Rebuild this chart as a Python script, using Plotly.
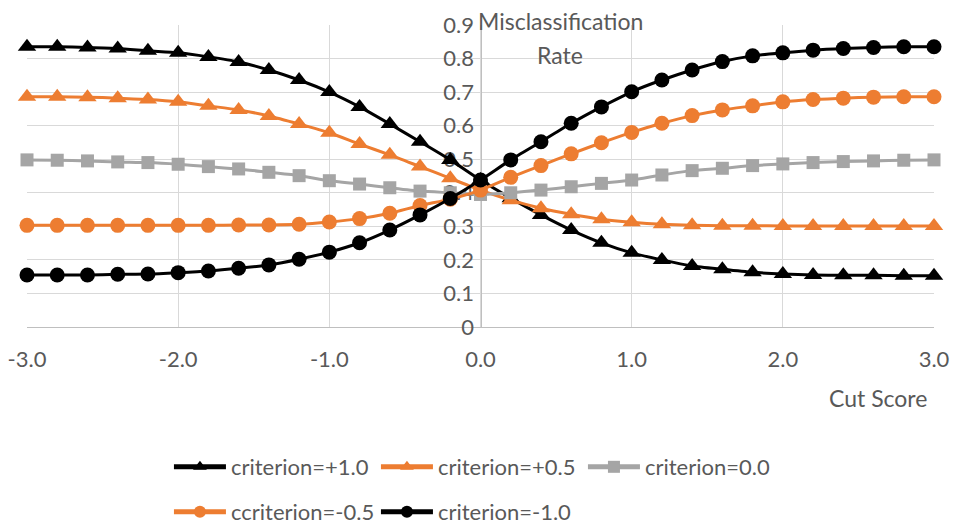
import plotly.graph_objects as go

# Cut scores (x) shared by every series
cut_score = [-3.0, -2.8, -2.6, -2.4, -2.2, -2.0, -1.8, -1.6, -1.4, -1.2, -1.0,
             -0.8, -0.6, -0.4, -0.2, 0.0, 0.2, 0.4, 0.6, 0.8, 1.0,
             1.2, 1.4, 1.6, 1.8, 2.0, 2.2, 2.4, 2.6, 2.8, 3.0]

# Misclassification rate per criterion value
crit_p10 = [0.835, 0.835, 0.833, 0.830, 0.823, 0.817, 0.805, 0.790, 0.766, 0.736,
            0.700, 0.656, 0.605, 0.552, 0.498, 0.438, 0.384, 0.334, 0.289, 0.251,
            0.221, 0.200, 0.182, 0.172, 0.163, 0.158, 0.155, 0.154, 0.154, 0.153, 0.153]
crit_p05 = [0.686, 0.686, 0.685, 0.682, 0.678, 0.671, 0.659, 0.647, 0.629, 0.605,
            0.579, 0.545, 0.513, 0.478, 0.443, 0.408, 0.378, 0.354, 0.336, 0.321,
            0.312, 0.306, 0.303, 0.302, 0.302, 0.301, 0.301, 0.301, 0.301, 0.301, 0.301]
crit_00 = [0.498, 0.497, 0.495, 0.492, 0.490, 0.485, 0.478, 0.471, 0.461, 0.451,
           0.436, 0.426, 0.415, 0.405, 0.400, 0.395, 0.400, 0.408, 0.418, 0.428,
           0.438, 0.453, 0.466, 0.473, 0.481, 0.486, 0.490, 0.493, 0.495, 0.497, 0.498]
crit_m05 = [0.303, 0.303, 0.303, 0.303, 0.303, 0.303, 0.303, 0.304, 0.304, 0.306,
            0.313, 0.323, 0.339, 0.362, 0.381, 0.408, 0.446, 0.481, 0.516, 0.549,
            0.580, 0.607, 0.630, 0.647, 0.659, 0.671, 0.678, 0.682, 0.685, 0.686, 0.686]
crit_m10 = [0.155, 0.155, 0.155, 0.157, 0.158, 0.162, 0.167, 0.175, 0.185, 0.202,
            0.223, 0.251, 0.289, 0.334, 0.383, 0.438, 0.498, 0.552, 0.607, 0.656,
            0.701, 0.736, 0.766, 0.791, 0.808, 0.817, 0.825, 0.830, 0.833, 0.835, 0.835]

series_names = ["criterion=+1.0", "criterion=+0.5", "criterion=0.0",
                "ccriterion=-0.5", "criterion=-1.0"]

x_tick_vals = [-3, -2, -1, 0, 1, 2, 3]
x_tick_labels = ["-3.0", "-2.0", "-1.0", "0.0", "1.0", "2.0", "3.0"]
y_tick_vals = [0, 0.1, 0.2, 0.3, 0.4, 0.5, 0.6, 0.7, 0.8, 0.9]
y_tick_labels = ["0", "0.1", "0.2", "0.3", "0.4", "0.5", "0.6", "0.7", "0.8", "0.9"]

BLACK = "#000000"
ORANGE = "#ED7D31"
GREY = "#A5A5A5"
TEXT = "#595959"
FONT = "Lato"

styles = [
    (crit_p10, BLACK, "triangle-up", 16, "legend"),
    (crit_p05, ORANGE, "triangle-up", 16, "legend"),
    (crit_00, GREY, "square", 13, "legend"),
    (crit_m05, ORANGE, "circle", 15, "legend2"),
    (crit_m10, BLACK, "circle", 15, "legend2"),
]

fig = go.Figure()
for name, (vals, color, symbol, size, leg) in zip(series_names, styles):
    fig.add_trace(go.Scatter(
        x=cut_score, y=vals, name=name, mode="lines+markers",
        line=dict(color=color, width=3, shape="spline", smoothing=0.6),
        marker=dict(symbol=symbol, size=size, color=color, line=dict(width=0)),
        cliponaxis=False, legend=leg,
    ))

legend_common = dict(
    orientation="h", xanchor="left", yanchor="middle",
    font=dict(family=FONT, size=22, color=TEXT),
    itemwidth=52, entrywidth=140, entrywidthmode="pixels",
    bgcolor="rgba(0,0,0,0)", itemsizing="constant",
)

fig.update_layout(
    width=954, height=525,
    margin=dict(l=27, r=20, t=25, b=198, autoexpand=False),
    paper_bgcolor="white", plot_bgcolor="white",
    font=dict(family=FONT, size=22, color=TEXT),
    xaxis=dict(
        range=[-3, 3], tickvals=x_tick_vals, ticktext=x_tick_labels,
        showgrid=True, gridcolor="#D9D9D9", gridwidth=1.3,
        zeroline=False, showline=True, linecolor="#BFBFBF", linewidth=1.3,
        ticks="", ticklabelstandoff=12, mirror=False,
        tickfont=dict(family=FONT, size=22, color=TEXT),
        layer="below traces",
    ),
    yaxis=dict(
        range=[0, 0.9], tickvals=y_tick_vals, ticktext=y_tick_labels,
        showgrid=True, gridcolor="#D9D9D9", gridwidth=1.3,
        zeroline=False, showline=True, linecolor="#BFBFBF", linewidth=1.3,
        anchor="free", position=0.5, side="left", ticks="",
        ticklabelstandoff=2,
        tickfont=dict(family=FONT, size=22, color=TEXT),
        layer="below traces",
    ),
    legend=dict(x=0.1565, y=-0.4636, **legend_common),
    legend2=dict(x=0.1565, y=-0.6126, **legend_common),
    annotations=[
        dict(text="Misclassification", xref="paper", yref="paper",
             x=0.5877, y=1.0132, xanchor="center", yanchor="middle",
             showarrow=False, font=dict(family=FONT, size=23, color=TEXT)),
        dict(text="Rate", xref="paper", yref="paper",
             x=0.5877, y=0.9007, xanchor="center", yanchor="middle",
             showarrow=False, font=dict(family=FONT, size=23, color=TEXT)),
        dict(text="Cut Score", xref="paper", yref="paper",
             x=0.938, y=-0.235, xanchor="center", yanchor="middle",
             showarrow=False, font=dict(family=FONT, size=23, color=TEXT)),
    ],
    showlegend=True,
)

fig.write_html("out.html")
